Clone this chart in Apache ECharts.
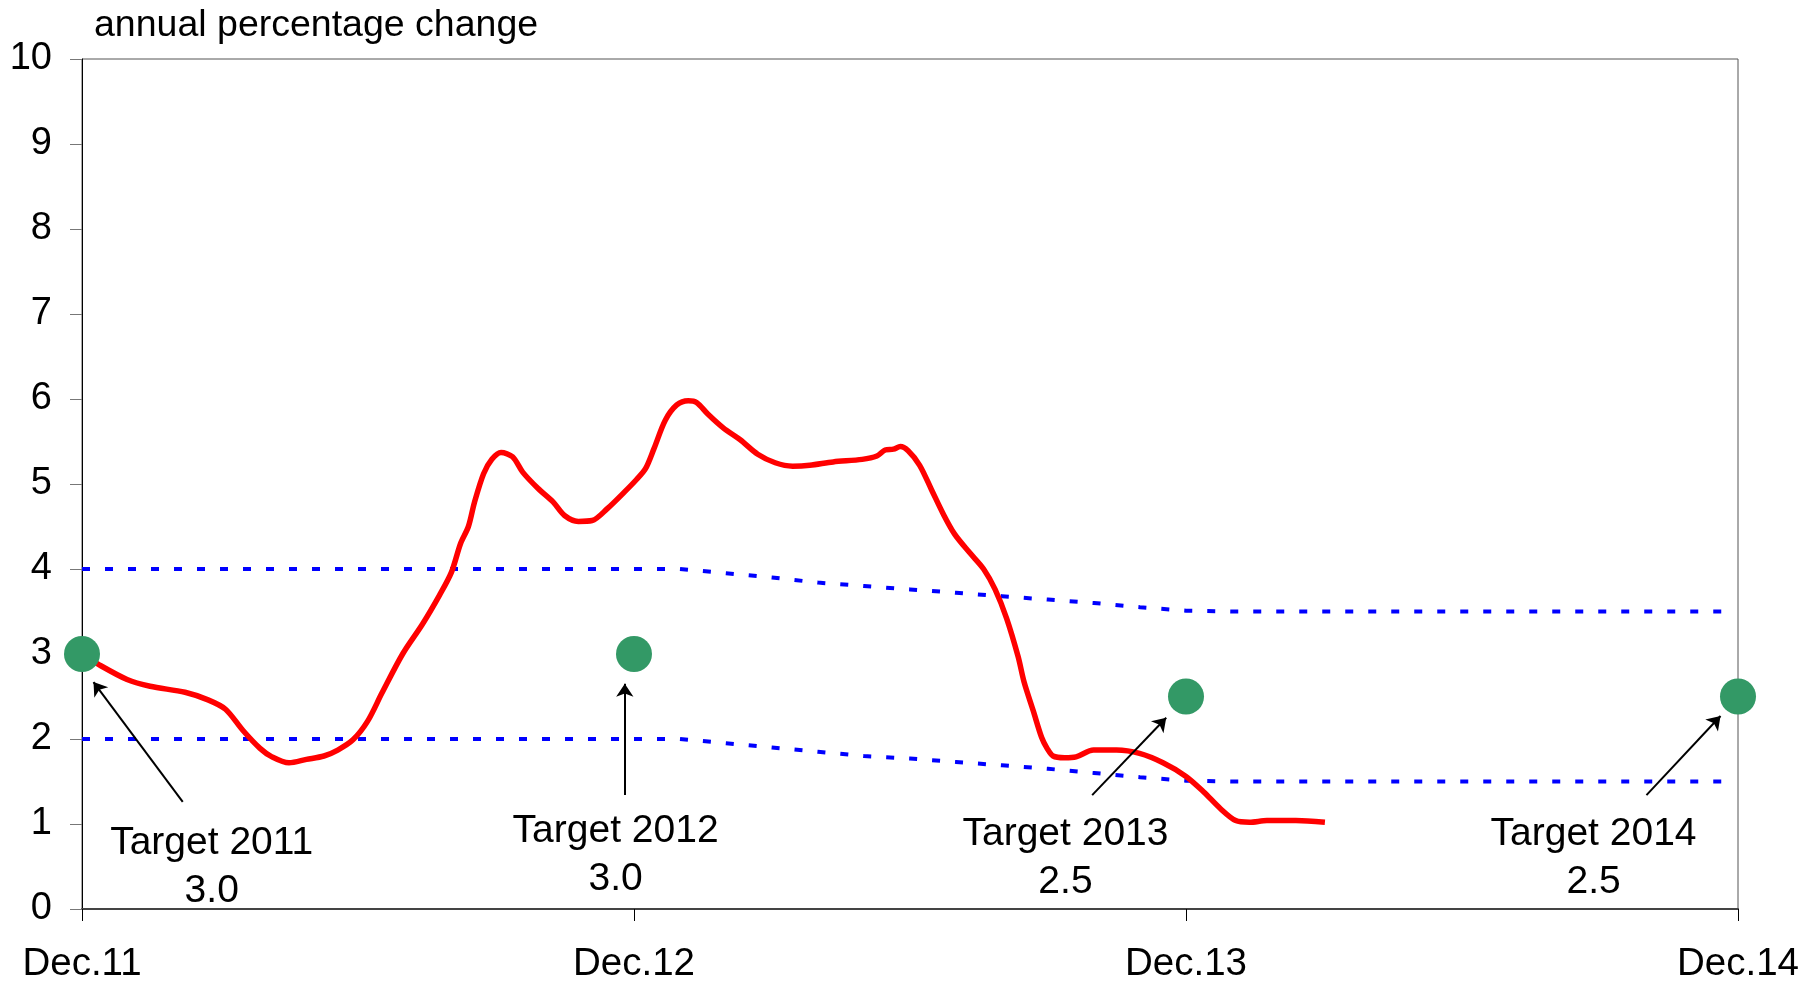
<!DOCTYPE html>
<html>
<head>
<meta charset="utf-8">
<script src="https://cdn.jsdelivr.net/npm/echarts@6/dist/echarts.min.js"></script>
<style>
html,body{margin:0;padding:0;background:#fff;}
#chart{width:1814px;height:984px;}
</style>
</head>
<body>
<div id="chart"></div>
<script>
// x positions are months after Dec.11
const tickLabels = ['Dec.11', 'Dec.12', 'Dec.13', 'Dec.14'];

const inflationMonths = [0,0.35,0.98,1.48,2.24,2.74,3.12,3.50,3.87,4.13,4.50,4.88,5.26,5.56,5.89,6.21,6.52,6.97,7.40,7.77,8.03,8.23,8.40,8.53,8.73,8.91,9.11,9.36,9.58,9.91,10.24,10.49,10.79,11.09,11.42,11.80,12.05,12.25,12.43,12.68,12.93,13.18,13.36,13.61,13.94,14.31,14.69,15.07,15.45,15.82,16.33,16.96,17.28,17.46,17.64,17.79,17.96,18.21,18.47,18.72,18.97,19.30,19.60,19.85,20.10,20.35,20.48,20.68,20.86,20.98,21.11,21.36,21.61,21.99,22.49,22.99,23.50,24.00,24.38,24.75,25.08,25.38,25.76,26.39,27.02];
const inflationValues = [3.00,2.88,2.70,2.62,2.55,2.46,2.35,2.10,1.89,1.79,1.72,1.76,1.80,1.87,1.99,2.21,2.54,3.00,3.35,3.69,3.96,4.30,4.50,4.78,5.12,5.29,5.37,5.32,5.14,4.95,4.79,4.63,4.56,4.57,4.71,4.91,5.05,5.18,5.41,5.75,5.93,5.98,5.96,5.82,5.66,5.52,5.35,5.25,5.21,5.22,5.26,5.29,5.33,5.40,5.41,5.44,5.39,5.22,4.93,4.65,4.41,4.19,4.00,3.76,3.42,2.97,2.67,2.33,2.02,1.89,1.80,1.78,1.79,1.87,1.87,1.83,1.72,1.56,1.38,1.18,1.04,1.02,1.04,1.04,1.02];

const bandMonths = [0,1,2,3,4,5,6,7,8,9,10,11,12,13,14,15,16,17,18,19,20,21,22,23,24,25,26,27,28,29,30,31,32,33,34,35,35.7];
const bandUpper = [4,4,4,4,4,4,4,4,4,4,4,4,4,4,3.95,3.9,3.84,3.8,3.76,3.72,3.68,3.64,3.6,3.55,3.51,3.5,3.5,3.5,3.5,3.5,3.5,3.5,3.5,3.5,3.5,3.5,3.5];
const bandLower = [2,2,2,2,2,2,2,2,2,2,2,2,2,2,1.95,1.9,1.85,1.8,1.77,1.73,1.69,1.65,1.6,1.55,1.51,1.5,1.5,1.5,1.5,1.5,1.5,1.5,1.5,1.5,1.5,1.5,1.5];

const targetMonths = [0, 12, 24, 36];
const targetValues = [3.0, 3.0, 2.5, 2.5];

const noteTexts = ['Target 2011\n3.0', 'Target 2012\n3.0', 'Target 2013\n2.5', 'Target 2014\n2.5'];
const noteX = [2.82, 11.6, 21.38, 32.86];
const noteY = [0.49, 0.63, 0.60, 0.60];
const arrowFrom = [[2.19, 1.26], [11.8, 1.34], [21.96, 1.34], [34.01, 1.34]];
const arrowTo = [[0.25, 2.67], [11.8, 2.65], [23.57, 2.25], [35.62, 2.27]];

const FONT = '"Liberation Sans", Arial, sans-serif';

const chart = echarts.init(document.getElementById('chart'), null, {renderer: 'canvas'});
chart.setOption({
  animation: false,
  backgroundColor: '#ffffff',
  textStyle: {fontFamily: FONT, color: '#000'},
  title: {
    text: 'annual percentage change',
    left: 89, top: 2,
    textStyle: {fontFamily: FONT, fontSize: 37.5, fontWeight: 'normal', color: '#000'}
  },
  grid: {left: 82, right: 76, top: 59, bottom: 72, show: true, borderColor: '#555', borderWidth: 1, backgroundColor: 'transparent'},
  xAxis: {
    type: 'value', min: 0, max: 36, interval: 12,
    axisLine: {show: true, lineStyle: {color: '#444', width: 2}},
    axisTick: {show: true, length: 12, lineStyle: {color: '#000', width: 1}},
    splitLine: {show: false},
    axisLabel: {
      margin: 36, fontSize: 38.5, color: '#000', fontFamily: FONT,
      formatter: v => tickLabels[Math.round(v / 12)] || ''
    }
  },
  yAxis: {
    type: 'value', min: 0, max: 10, interval: 1,
    axisLine: {show: true, lineStyle: {color: '#000', width: 1}},
    axisTick: {show: true, length: 12, lineStyle: {color: '#777', width: 1}},
    splitLine: {show: false},
    axisLabel: {margin: 30, fontSize: 38, color: '#000', fontFamily: FONT}
  },
  series: [
    {
      type: 'line', name: 'upper', data: bandMonths.map((m, i) => [m, bandUpper[i]]),
      showSymbol: false, symbol: 'none', silent: true, z: 2,
      lineStyle: {color: '#0000ff', width: 4, type: [8, 15]}
    },
    {
      type: 'line', name: 'lower', data: bandMonths.map((m, i) => [m, bandLower[i]]),
      showSymbol: false, symbol: 'none', silent: true, z: 2,
      lineStyle: {color: '#0000ff', width: 4, type: [8, 15]}
    },
    {
      type: 'line', name: 'inflation', data: inflationMonths.map((m, i) => [m, inflationValues[i]]),
      showSymbol: false, symbol: 'none', smooth: 0.3, silent: true, z: 3,
      lineStyle: {color: '#ff0000', width: 5.5}
    },
    {
      type: 'scatter', name: 'targets', data: targetMonths.map((m, i) => [m, targetValues[i]]),
      symbol: 'circle', symbolSize: 36, silent: true, z: 5,
      itemStyle: {color: '#339966', opacity: 1}
    },
    {
      type: 'scatter', name: 'notes', silent: true, z: 6,
      data: noteX.map((x, i) => ({value: [x, noteY[i]], name: noteTexts[i]})),
      symbolSize: 1, itemStyle: {color: 'rgba(0,0,0,0)', opacity: 1},
      label: {
        show: true, position: 'inside', formatter: p => p.name, opacity: 1,
        fontSize: 39, lineHeight: 48, color: '#000', fontFamily: FONT, align: 'center',
        textBorderWidth: 0
      }
    },
    {
      type: 'line', name: 'arrows', data: [], silent: true, z: 6,
      markLine: {
        silent: true, animation: false,
        symbol: ['none', 'arrow'], symbolSize: 13,
        label: {show: false},
        lineStyle: {color: '#000', width: 2, type: 'solid'},
        emphasis: {disabled: true},
        data: arrowFrom.map((f, i) => [{coord: f}, {coord: arrowTo[i]}])
      }
    }
  ]
});
</script>
</body>
</html>
